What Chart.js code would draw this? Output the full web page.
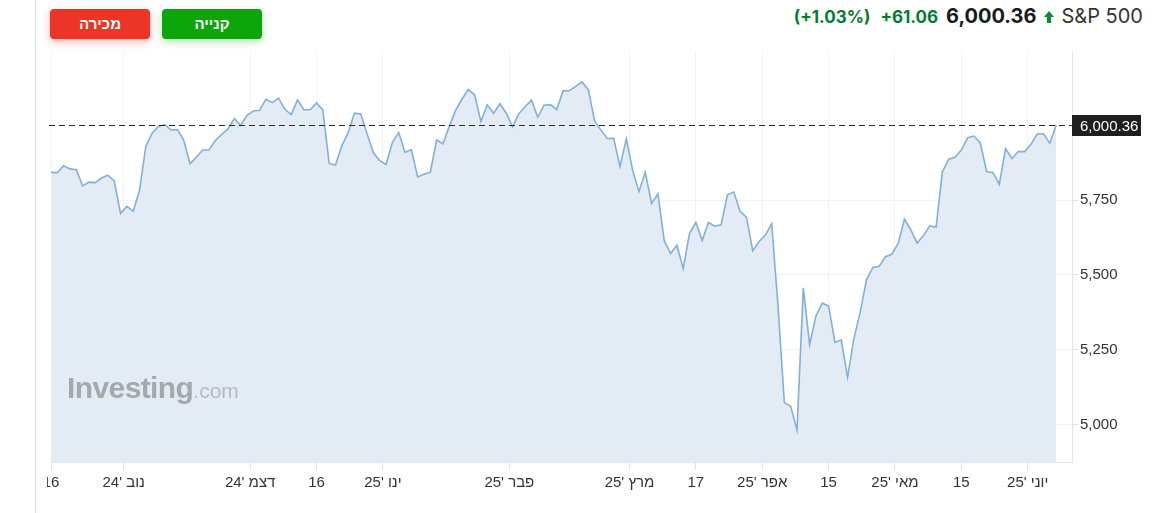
<!DOCTYPE html>
<html lang="he">
<head>
<meta charset="utf-8">
<title>S&amp;P 500</title>
<script src="https://cdn.jsdelivr.net/npm/chart.js@4.4.1/dist/chart.umd.min.js"></script>
<style>
html, body { margin: 0; padding: 0; background: #fff; }
body { width: 1158px; height: 513px; position: relative; overflow: hidden; font-family: "Liberation Sans", Arial, sans-serif; }
.sep { position: absolute; left: 35px; top: 0; width: 1px; height: 513px; background: #dedede; }
.btn { position: absolute; top: 9px; width: 100px; height: 30px; border-radius: 4px; color: #fff; font: bold 15px "Liberation Sans", Arial, sans-serif; text-align: center; line-height: 30px; }
.sell { left: 50px; background: #ec3527; box-shadow: 0 3px 8px rgba(236, 53, 39, .35); }
.buy { left: 162px; background: #0ca60c; box-shadow: 0 3px 8px rgba(12, 166, 12, .3); }
.quote { position: absolute; right: 15px; top: 4px; display: flex; align-items: baseline; font-family: Inter, "Noto Sans", sans-serif; white-space: nowrap; }
.quote .pct, .quote .chg { color: #007c32; font-weight: 700; font-size: 17px; }
.quote .chg { margin-left: 10px; }
.quote .last { color: #1a1a1a; font-weight: 700; font-size: 20px; margin-left: 8px; }
.quote svg { margin-left: 8px; }
.quote .name { color: #333; font-size: 20px; margin-left: 7px; }
#wrap { position: absolute; left: 47px; top: 0; width: 1111px; height: 513px; }
.wm { position: absolute; left: 67px; top: 371px; color: #a5a9ae; white-space: nowrap; }
.wm b { font: bold 30px "Liberation Sans", Arial, sans-serif; letter-spacing: -0.6px; }
.wm span { font: 21px "Liberation Sans", Arial, sans-serif; color: #b6babf; }
</style>
</head>
<body>
<div class="sep"></div>
<div class="btn sell">מכירה</div>
<div class="btn buy">קנייה</div>
<div class="quote">
  <span class="pct">(+1.03%)</span>
  <span class="chg">+61.06</span>
  <span class="last">6,000.36</span>
  <svg width="10" height="12" viewBox="0 0 10 12"><polygon points="5,0 10,6 7,6 7,12 3,12 3,6 0,6" fill="#0a8a3a"/></svg>
  <span class="name">S&amp;P 500</span>
</div>
<div id="wrap"><canvas id="spChart"></canvas></div>
<div class="wm"><b>Investing</b><span>.com</span></div>

<script>
// daily closes, S&P 500
var dates = [
  '2024-10-16','2024-10-17','2024-10-18','2024-10-21','2024-10-22','2024-10-23','2024-10-24','2024-10-25','2024-10-28','2024-10-29','2024-10-30','2024-10-31',
  '2024-11-01','2024-11-04','2024-11-05','2024-11-06','2024-11-07','2024-11-08','2024-11-11','2024-11-12','2024-11-13','2024-11-14','2024-11-15','2024-11-18','2024-11-19','2024-11-20','2024-11-21','2024-11-22','2024-11-25','2024-11-26','2024-11-27','2024-11-29',
  '2024-12-02','2024-12-03','2024-12-04','2024-12-05','2024-12-06','2024-12-09','2024-12-10','2024-12-11','2024-12-12','2024-12-13','2024-12-16','2024-12-17','2024-12-18','2024-12-19','2024-12-20','2024-12-23','2024-12-24','2024-12-26','2024-12-27','2024-12-30','2024-12-31',
  '2025-01-02','2025-01-03','2025-01-06','2025-01-07','2025-01-08','2025-01-10','2025-01-13','2025-01-14','2025-01-15','2025-01-16','2025-01-17','2025-01-21','2025-01-22','2025-01-23','2025-01-24','2025-01-27','2025-01-28','2025-01-29','2025-01-30','2025-01-31',
  '2025-02-03','2025-02-04','2025-02-05','2025-02-06','2025-02-07','2025-02-10','2025-02-11','2025-02-12','2025-02-13','2025-02-14','2025-02-18','2025-02-19','2025-02-20','2025-02-21','2025-02-24','2025-02-25','2025-02-26','2025-02-27','2025-02-28',
  '2025-03-03','2025-03-04','2025-03-05','2025-03-06','2025-03-07','2025-03-10','2025-03-11','2025-03-12','2025-03-13','2025-03-14','2025-03-17','2025-03-18','2025-03-19','2025-03-20','2025-03-21','2025-03-24','2025-03-25','2025-03-26','2025-03-27','2025-03-28','2025-03-31',
  '2025-04-01','2025-04-02','2025-04-03','2025-04-04','2025-04-07','2025-04-08','2025-04-09','2025-04-10','2025-04-11','2025-04-14','2025-04-15','2025-04-16','2025-04-17','2025-04-21','2025-04-22','2025-04-23','2025-04-24','2025-04-25','2025-04-28','2025-04-29','2025-04-30',
  '2025-05-01','2025-05-02','2025-05-05','2025-05-06','2025-05-07','2025-05-08','2025-05-09','2025-05-12','2025-05-13','2025-05-14','2025-05-15','2025-05-16','2025-05-19','2025-05-20','2025-05-21','2025-05-22','2025-05-23','2025-05-27','2025-05-28','2025-05-29','2025-05-30',
  '2025-06-02','2025-06-03','2025-06-04','2025-06-05','2025-06-06'
];

var closes = [
  5842.47, 5841.47, 5864.67, 5853.98, 5851.20, 5797.42, 5809.86, 5808.12, 5823.52, 5832.92, 5813.67, 5705.45,
  5728.80, 5712.69, 5782.76, 5929.04, 5973.10, 5995.54, 6001.35, 5983.99, 5985.38, 5949.17, 5870.62, 5893.62, 5916.98, 5917.11, 5948.71, 5969.34, 5987.37, 6021.63, 5998.74, 6032.38,
  6047.15, 6049.88, 6086.49, 6075.11, 6090.27, 6052.85, 6034.91, 6084.19, 6051.25, 6051.09, 6074.08, 6050.61, 5872.16, 5867.08, 5930.85, 5974.07, 6040.04, 6037.59, 5970.84, 5906.94, 5881.63,
  5868.55, 5942.47, 5975.38, 5909.03, 5918.25, 5827.04, 5836.22, 5842.91, 5949.91, 5937.34, 5996.66, 6049.24, 6086.37, 6118.71, 6101.24, 6012.28, 6067.70, 6039.31, 6071.17, 6040.53,
  5994.57, 6037.88, 6061.48, 6083.57, 6025.99, 6066.44, 6068.50, 6051.97, 6115.07, 6114.63, 6129.58, 6144.15, 6117.52, 6013.13, 5983.25, 5955.25, 5956.06, 5861.57, 5954.50,
  5849.72, 5778.15, 5842.63, 5738.52, 5770.20, 5614.56, 5572.07, 5599.30, 5521.52, 5638.94, 5675.12, 5614.66, 5675.29, 5662.89, 5667.56, 5767.57, 5776.65, 5712.20, 5693.31, 5580.94, 5611.85,
  5633.07, 5670.97, 5396.52, 5074.08, 5062.25, 4982.77, 5456.90, 5268.05, 5363.36, 5405.97, 5396.63, 5275.70, 5282.70, 5158.20, 5287.76, 5375.86, 5484.77, 5525.21, 5528.75, 5560.83, 5569.06,
  5604.14, 5686.67, 5650.38, 5606.91, 5631.28, 5663.94, 5659.91, 5844.19, 5886.55, 5892.58, 5916.93, 5958.38, 5963.60, 5940.46, 5844.61, 5842.01, 5802.82, 5921.54, 5888.55, 5912.17, 5911.69,
  5935.94, 5970.37, 5970.81, 5939.30, 6000.36
];

var tickDates = ['2024-10-16', '2024-11-01', '2024-12-02', '2024-12-16', '2025-01-02', '2025-02-03', '2025-03-03', '2025-03-17', '2025-04-01', '2025-04-15', '2025-05-01', '2025-05-15', '2025-06-02'];
var tickLabels = ['16', "נוב '24", "דצמ '24", '16', "ינו '25", "פבר '25", "מרץ '25", '17', "אפר '25", '15', "מאי '25", '15', "יוני '25"];
var yTicks = [5000, 5250, 5500, 5750];

var lastClose = closes[closes.length - 1];

// month labels sit on the boundary between two trading days
var tickPos = tickDates.map(function(d, i) {
    var idx = dates.indexOf(d);
    return (i > 0 && tickLabels[i].indexOf("'") !== -1) ? idx - 0.5 : idx;
});

var points = closes.map(function(v, i) { return { x: i, y: v }; });

var lastPriceLine = {
    id: 'lastPriceLine',
    afterDatasetsDraw: function(chart) {
        var ctx = chart.ctx;
        var area = chart.chartArea;
        var y = Math.round(chart.scales.y.getPixelForValue(lastClose)) + 0.5;
        ctx.save();
        ctx.strokeStyle = '#2b2b2b';
        ctx.lineWidth = 1;
        ctx.setLineDash([6, 4]);
        ctx.beginPath();
        ctx.moveTo(area.left - 2, y);
        ctx.lineTo(area.right, y);
        ctx.stroke();
        ctx.setLineDash([]);
        // price tag on the axis
        ctx.fillStyle = '#1f1f1f';
        ctx.fillRect(area.right, y - 10.5, 69, 21);
        ctx.fillStyle = '#fff';
        ctx.font = '15px "Liberation Sans", Arial, sans-serif';
        ctx.textBaseline = 'middle';
        ctx.textAlign = 'left';
        ctx.fillText(lastClose.toLocaleString('en-US', { minimumFractionDigits: 2 }), area.right + 8, y + 1);
        ctx.restore();
    }
};

Chart.defaults.font.family = '"Liberation Sans", Arial, sans-serif';
Chart.defaults.font.size = 15;
Chart.defaults.color = '#333';

var ctx = document.getElementById('spChart').getContext('2d');
var spChart = new Chart(ctx, {
    type: 'line',
    data: {
        datasets: [{
            data: points,
            borderColor: '#82b0da',
            borderWidth: 1.6,
            backgroundColor: '#e3ecf5',
            fill: 'start',
            pointRadius: 0,
            tension: 0
        }]
    },
    options: {
        responsive: true,
        maintainAspectRatio: false,
        animation: false,
        layout: { autoPadding: false, padding: { left: 4, top: 52, right: 0, bottom: 0 } },
        plugins: { legend: { display: false }, tooltip: { enabled: false } },
        scales: {
            x: {
                type: 'linear',
                min: 0,
                max: 161.5,
                afterBuildTicks: function(scale) {
                    scale.ticks = tickPos.map(function(v) { return { value: v }; });
                },
                afterFit: function(scale) {
                    scale.height = 51;
                    // let the first label run off the left edge, as in the original
                    scale.paddingLeft = 0;
                    scale.paddingRight = 0;
                },
                ticks: {
                    autoSkip: false,
                    maxRotation: 0,
                    padding: 4,
                    callback: function(value, index) { return tickLabels[index]; }
                },
                grid: { color: '#f0f2f5', tickColor: '#dfe3e9', tickLength: 8 },
                border: { color: '#e2e6ec' }
            },
            y: {
                position: 'right',
                min: 4876,
                max: 6244,
                afterBuildTicks: function(scale) {
                    scale.ticks = yTicks.map(function(v) { return { value: v }; });
                },
                afterFit: function(scale) {
                    scale.width = 86;
                    scale.paddingTop = 0;
                    scale.paddingBottom = 0;
                },
                ticks: {
                    padding: 2,
                    callback: function(value) { return value.toLocaleString('en-US'); }
                },
                grid: { color: '#f0f2f5', tickColor: '#dfe3e9', tickLength: 6 },
                border: { color: '#e2e6ec' }
            }
        }
    },
    plugins: [lastPriceLine]
});
</script>
</body>
</html>
